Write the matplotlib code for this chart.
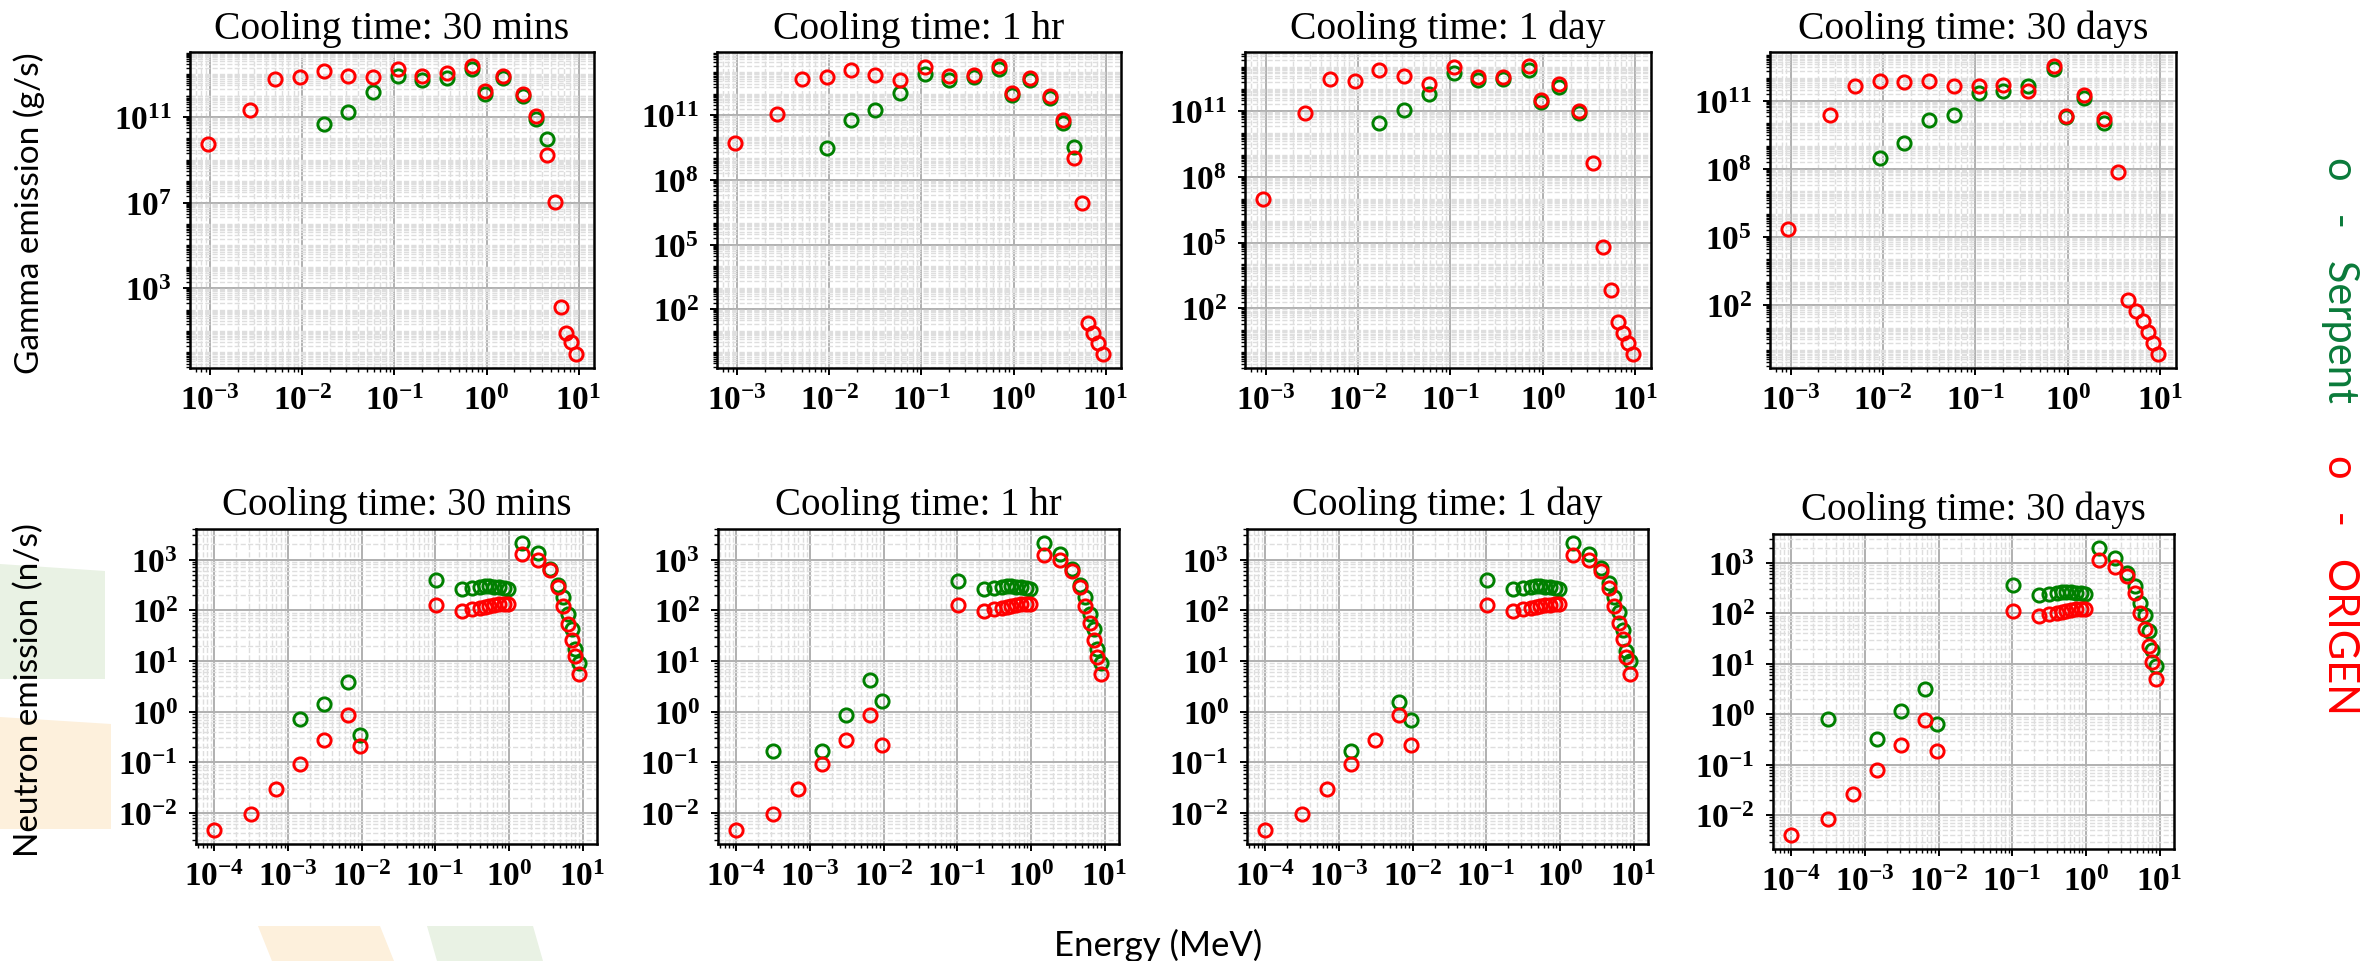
import numpy as np
import matplotlib.pyplot as plt
from matplotlib.ticker import LogLocator, FixedLocator, NullFormatter
from matplotlib.patches import Polygon

plt.rcParams['font.family'] = 'Liberation Serif'
plt.rcParams['font.weight'] = 'bold'
plt.rcParams['mathtext.fontset'] = 'custom'
plt.rcParams['mathtext.rm'] = 'Liberation Serif:bold'
plt.rcParams['mathtext.it'] = 'Liberation Serif:bold'
plt.rcParams['mathtext.bf'] = 'Liberation Serif:bold'
plt.rcParams['mathtext.default'] = 'rm'

nan = np.nan
cooling_times = ["30 mins", "1 hr", "1 day", "30 days"]

# ---- gamma spectra (g/s) ----
gamma_energy = [0.00095, 0.0027, 0.005, 0.0093, 0.017, 0.0316, 0.0586, 0.109, 0.2, 0.37, 0.70,
                0.955, 1.5, 2.48, 3.49, 4.5, 5.5, 6.47, 7.36, 8.26, 9.3]

gamma_origen_30min = [5.6e9, 2.2e11, 5.6e12, 7.2e12, 1.4e13, 8.3e12, 7.2e12, 1.7e13, 7.9e12, 1.1e13, 2.3e13,
                      1.6e12, 7.9e12, 1.2e12, 1.1e11, 1.7e9, 1.05e7, 1.3e2, 7.8, 3.0, 0.87]
gamma_origen_1hr = [5.1e9, 1.2e11, 5.1e12, 5.9e12, 1.3e13, 7.4e12, 4.5e12, 1.7e13, 7.1e12, 7.4e12, 1.9e13,
                    1.1e12, 5.5e12, 8.3e11, 6.3e10, 1.0e9, 8.5e6, 23, 7.6, 2.7, 0.85]
gamma_origen_1day = [9.5e6, 7.6e10, 2.8e12, 2.2e12, 7.1e12, 3.8e12, 1.7e12, 1.0e13, 3.5e12, 3.5e12, 1.05e13,
                     3.2e11, 1.6e12, 9.5e10, 4.2e8, 6.2e4, 6.9e2, 25, 7.2, 2.6, 0.87]
gamma_origen_30day = [2.1e5, 2.2e10, 4.2e11, 7.4e11, 6.3e11, 7.4e11, 4.2e11, 4.2e11, 4.9e11, 2.7e11, 3.2e12,
                      2.1e10, 1.8e11, 1.5e10, 6.8e7, 1.7e2, 56, 19, 6.2, 2.1, 0.71]

gamma_serpent_30min = [nan, nan, nan, nan, 4.9e10, 1.7e11, 1.5e12, 7.9e12, 5.2e12, 6.9e12, 1.7e13,
                       1.2e12, 6.8e12, 1.0e12, 8.3e10, 9.8e9, nan, nan, nan, nan, nan]
gamma_serpent_1hr = [nan, nan, nan, 3.0e9, 5.9e10, 1.7e11, 1.1e12, 8.5e12, 4.6e12, 5.9e12, 1.4e13,
                     8.5e11, 4.5e12, 6.5e11, 4.4e10, 3.3e9, nan, nan, nan, nan, nan]
gamma_serpent_1day = [nan, nan, nan, nan, 2.8e10, 1.1e11, 5.9e11, 5.1e12, 2.5e12, 2.8e12, 7.4e12,
                      2.6e11, 1.2e12, 7.8e10, nan, nan, nan, nan, nan, nan, nan]
gamma_serpent_30day = [nan, nan, nan, 2.8e8, 1.4e9, 1.4e10, 2.3e10, 2.1e11, 2.5e11, 4.2e11, 2.5e12,
                       1.9e10, 1.3e11, 1.0e10, nan, nan, nan, nan, nan, nan, nan]

# ---- neutron spectra (n/s) ----
neutron_energy = [1.0e-4, 3.2e-4, 6.8e-4, 1.45e-3, 3.1e-3, 6.5e-3, 9.5e-3, 0.102, 0.23, 0.32, 0.40, 0.47,
                  0.54, 0.63, 0.73, 0.85, 0.97, 1.5, 2.5, 3.6, 4.6, 5.5, 6.4, 7.2, 7.9, 8.9]

neutron_origen_30min = [4.7e-3, 9.8e-3, 3.0e-2, 9.3e-2, 0.28, 0.86, 0.21, 129, 98, 105, 112, 118, 122,
                        126, 130, 133, 135, 1260, 1000, 620, 290, 120, 54, 26, 12.6, 5.5]
neutron_origen_1hr = [4.7e-3, 9.8e-3, 3.0e-2, 9.3e-2, 0.28, 0.86, 0.22, 129, 98, 105, 112, 118, 122,
                      126, 130, 133, 135, 1230, 1000, 590, 290, 120, 56, 26, 11.7, 5.5]
neutron_origen_1day = [4.7e-3, 9.8e-3, 2.95e-2, 9.1e-2, 0.275, 0.87, 0.22, 126, 96, 104, 111, 117, 121,
                       125, 129, 132, 134, 1230, 1000, 600, 280, 120, 56, 27.5, 11.7, 5.5]
neutron_origen_30day = [4.1e-3, 8.5e-3, 2.6e-2, 7.9e-2, 0.245, 0.76, 0.19, 112, 89, 96, 102, 108, 113,
                        117, 120, 122, 123, 1120, 820, 540, 257, 103, 50, 23, 11, 5.0]

neutron_serpent_30min = [nan, nan, nan, 0.71, 1.4, 3.8, 0.35, 400, 257, 275, 288, 295, 297,
                         292, 285, 275, 265, 2090, 1320, 660, 320, 180, 85, 43, 17, 9.3]
neutron_serpent_1hr = [nan, 0.17, nan, 0.17, 0.86, 4.3, 1.6, 370, 265, 280, 290, 296, 298,
                       293, 286, 276, 266, 2090, 1260, 650, 320, 180, 85, 43, 17, 9.3]
neutron_serpent_1day = [nan, nan, nan, 0.17, nan, 1.55, 0.68, 390, 257, 275, 288, 295, 297,
                        292, 285, 275, 265, 2090, 1260, 680, 350, 180, 91, 40, 16, 10]
neutron_serpent_30day = [nan, 0.81, nan, 0.33, 1.17, 3.2, 0.63, 360, 230, 245, 258, 265, 268,
                         265, 258, 250, 240, 1950, 1230, 630, 355, 160, 95, 45, 19, 9.0]

gamma_origen = [gamma_origen_30min, gamma_origen_1hr, gamma_origen_1day, gamma_origen_30day]
gamma_serpent = [gamma_serpent_30min, gamma_serpent_1hr, gamma_serpent_1day, gamma_serpent_30day]
neutron_origen = [neutron_origen_30min, neutron_origen_1hr, neutron_origen_1day, neutron_origen_30day]
neutron_serpent = [neutron_serpent_30min, neutron_serpent_1hr, neutron_serpent_1day, neutron_serpent_30day]

gamma_yticks = [[1e3, 1e7, 1e11], [1e2, 1e5, 1e8, 1e11], [1e2, 1e5, 1e8, 1e11], [1e2, 1e5, 1e8, 1e11]]
neutron_yticks = [1e-2, 1e-1, 1e0, 1e1, 1e2, 1e3]

W, H = 2376, 962
fig = plt.figure(figsize=(W / 100, H / 100), dpi=100)


def rect(l, t, r, b):
    return [l / W, 1 - b / H, (r - l) / W, (b - t) / H]


# slide background decorations
bg_green = '#e9f2e4'
bg_orange = '#fdf0dc'
for pts, col in [([(0, 565), (105, 572), (105, 680), (0, 680)], bg_green),
                 ([(0, 718), (111, 725), (111, 830), (0, 830)], bg_orange),
                 ([(258, 927), (380, 927), (394, 962), (272, 962)], bg_orange),
                 ([(427, 927), (533, 927), (543, 962), (437, 962)], bg_green)]:
    fig.patches.append(Polygon([(x / W, 1 - y / H) for x, y in pts], closed=True,
                               transform=fig.transFigure, facecolor=col, edgecolor='none', zorder=0))

top_rects = [(190, 53, 594, 369), (717, 53, 1121, 369), (1245, 53, 1651, 369), (1770, 53, 2176, 369)]
bot_rects = [(196, 530, 597, 845), (718, 530, 1119, 845), (1247, 530, 1648, 845), (1773, 535, 2174, 850)]

c_serpent = '#008000'
c_origen = '#ff0000'
mk = dict(ls='none', marker='o', ms=9.5, mfc='none', mew=2.1)


def style(ax, yticks):
    ax.set_xscale('log')
    ax.set_yscale('log')
    ax.yaxis.set_major_locator(FixedLocator(yticks))
    ax.xaxis.set_major_locator(LogLocator(base=10, numticks=20))
    ax.xaxis.set_minor_locator(LogLocator(base=10, subs=np.arange(2, 10), numticks=50))
    ax.yaxis.set_minor_locator(LogLocator(base=10, subs=np.arange(1, 10), numticks=200))
    ax.xaxis.set_minor_formatter(NullFormatter())
    ax.yaxis.set_minor_formatter(NullFormatter())
    ax.grid(True, which='major', color='#b0b0b0', lw=1.4, ls='-')
    ax.grid(True, which='minor', color='#dedede', lw=1.0, ls='--')
    ax.set_axisbelow(True)
    ax.tick_params(which='major', direction='out', length=5, width=1.4, labelsize=24)
    ax.tick_params(axis='x', which='major', pad=7)
    ax.tick_params(axis='y', which='major', pad=8)
    ax.tick_params(which='minor', direction='out', length=3, width=1.0)
    for s in ax.spines.values():
        s.set_linewidth(1.8)


for i in range(4):
    ax = fig.add_axes(rect(*top_rects[i]))
    ax.plot(gamma_energy, gamma_serpent[i], mec=c_serpent, **mk)
    ax.plot(gamma_energy, gamma_origen[i], mec=c_origen, **mk)
    style(ax, gamma_yticks[i])
    ax.set_title("Cooling time: " + cooling_times[i], fontsize=28.5, fontweight='normal', pad=10)

    ax = fig.add_axes(rect(*bot_rects[i]))
    ax.plot(neutron_energy, neutron_serpent[i], mec=c_serpent, **mk)
    ax.plot(neutron_energy, neutron_origen[i], mec=c_origen, **mk)
    style(ax, neutron_yticks)
    ax.set_title("Cooling time: " + cooling_times[i], fontsize=28, fontweight='normal', pad=11)

lab = dict(family='Lato', fontweight='normal', fontsize=24, rotation=90, ha='center', va='center')
fig.text(29 / W, 1 - 213 / H, "Gamma emission (g/s)", **lab)
fig.text(29 / W, 1 - 690 / H, "Neutron emission (n/s)", **lab)
fig.text(1158 / W, 1 - 945 / H, "Energy (MeV)", family='Lato', fontweight='normal', fontsize=25,
         ha='center', va='center')

leg = dict(family='Lato', fontweight='normal', fontsize=30, rotation=-90, ha='center', va='center')
fig.text(2340 / W, 1 - 280 / H, "o   -   Serpent", color='#0a7a3a', **leg)
fig.text(2340 / W, 1 - 585 / H, "o   -   ORIGEN", color='#ff0000', **leg)

fig.savefig('out.png', dpi=100)
